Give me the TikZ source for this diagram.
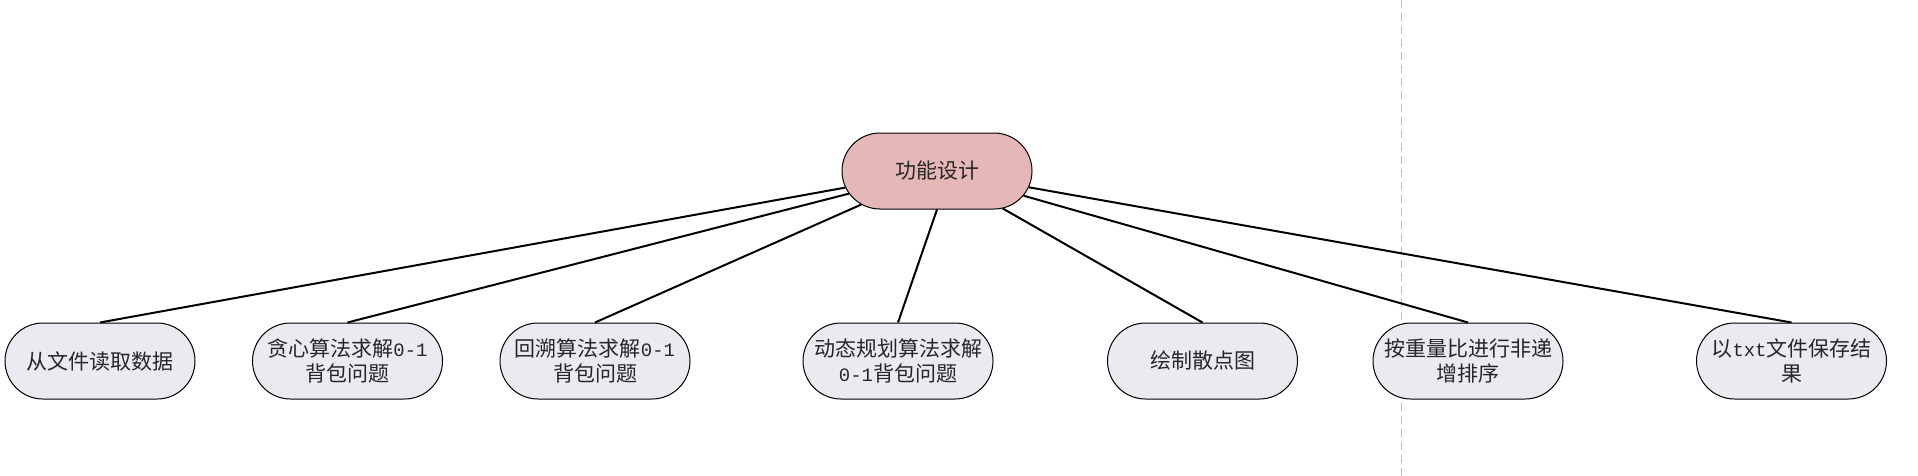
\documentclass[tikz,border=0pt]{standalone}
\usepackage{fontspec}
\usetikzlibrary{shapes.misc}
\setmainfont{Noto Sans CJK SC}
\newfontfamily\hw{Liberation Mono}[Scale=0.9]
\definecolor{rootfill}{RGB}{229,184,183}
\definecolor{leaffill}{RGB}{236,233,241}
\definecolor{guide}{RGB}{190,190,190}
\tikzset{
  base/.style={draw=black, line width=1pt, rounded rectangle,
    minimum width=190pt, minimum height=76pt, align=center,
    inner sep=0pt, font=\fontsize{21}{25}\selectfont, text=black!85},
  rootbox/.style={base, fill=rootfill},
  leafbox/.style={base, fill=leaffill},
  link/.style={draw=black, line width=2pt},
  guideline/.style={draw=guide, line width=1pt, dash pattern=on 8pt off 5pt}
}
\begin{document}
\begin{tikzpicture}[x=1pt, y=-1pt]
\useasboundingbox (0,0) rectangle (1918,476);
\coordinate (gtop) at (1401,0);
\coordinate (gbot) at (1401,476);
\draw[guideline] (gtop) -- (gbot);

\node[rootbox] (root) at (937,171) {功能设计};
\node[leafbox] (c1) at (100,361) {从文件读取数据};
\node[leafbox] (c2) at (347.5,361) {贪心算法求解{\hw 0-1}\\背包问题};
\node[leafbox] (c3) at (595,361) {回溯算法求解{\hw 0-1}\\背包问题};
\node[leafbox] (c4) at (898,361) {动态规划算法求解\\{\hw 0-1}背包问题};
\node[leafbox] (c5) at (1202.5,361) {绘制散点图};
\node[leafbox] (c6) at (1468,361) {按重量比进行非递\\增排序};
\node[leafbox] (c7) at (1791.5,361) {以{\hw txt}文件保存结\\果};

\foreach \c in {c1,c2,c3,c5,c6,c7}
  \draw[link] (root) -- (\c.north);
\draw[link] (root.south) -- (c4.north);
\end{tikzpicture}
\end{document}
